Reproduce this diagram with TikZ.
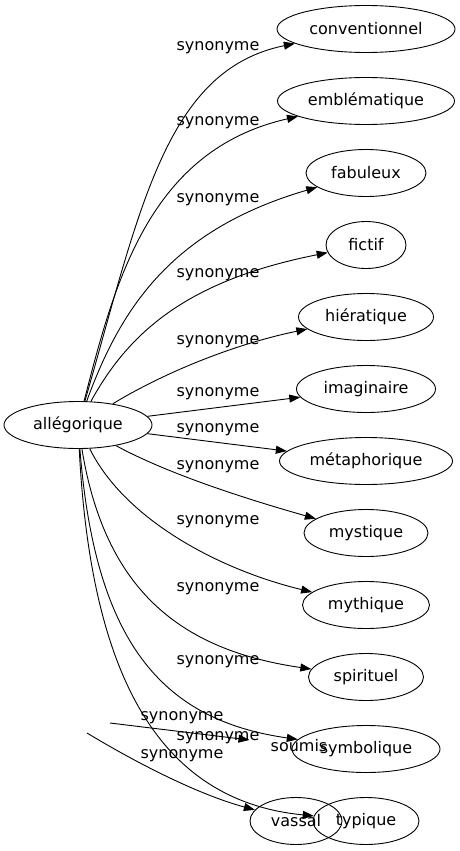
\documentclass[tikz,border=0pt]{standalone}
\usepackage{fontspec}
\setmainfont{DejaVu Sans}
\usetikzlibrary{shapes.geometric,arrows.meta}
\tikzset{
  wordtext/.style = {inner sep=0pt, font=\fontsize{16}{19}\selectfont},
  wordnode/.style = {wordtext, ellipse, draw=black, line width=0.9pt, minimum height=47pt},
  hiddennode/.style = {wordtext, ellipse, minimum height=47pt},
  synedge/.style = {draw=black, line width=0.9pt, -{Triangle[length=11pt,width=8pt]}},
}

\begin{document}
\begin{tikzpicture}[x=1pt, y=-1pt]
  \useasboundingbox (0,0) rectangle (460,851);
  \node [wordnode, minimum width=148pt] (alle) at (78,425) {allégorique};
  \foreach \n/\t/\y/\w in {conv/conventionnel/29/178, embl/emblématique/101/177,
      fabu/fabuleux/173/120, fict/fictif/245/80, hier/hiératique/317/135,
      imag/imaginaire/389/139, meta/métaphorique/461/173, myst/mystique/533/124,
      myth/mythique/605/127, spir/spirituel/677/115, symb/symbolique/749/148,
      typi/typique/821/106}
    \node [wordnode, minimum width=\w pt] (\n) at (366,\y) {\t};
  \node [hiddennode, minimum width=102pt] (soum) at (299,746) {soumis};
  \node [wordnode, minimum width=92pt] (vass) at (296,821) {vassal};
  \coordinate (srca) at (110,723);
  \coordinate (srcb) at (87,733);
  % edges
  \draw [synedge] (alle) .. controls (140,210) and (165,70) .. (conv);
  \draw [synedge] (alle) .. controls (115,280) and (150,150) .. (embl);
  \draw [synedge] (alle) .. controls (120,310) and (170,230) .. (fabu);
  \draw [synedge] (alle) .. controls (130,330) and (190,280) .. (fict);
  \draw [synedge] (alle) .. controls (160,375) and (230,345) .. (hier);
  \draw [synedge] (alle) -- (imag);
  \draw [synedge] (alle) -- (meta);
  \draw [synedge] (alle) .. controls (170,475) and (250,500) .. (myst);
  \draw [synedge] (alle) .. controls (125,520) and (220,570) .. (myth);
  \draw [synedge] (alle) .. controls (105,590) and (180,650) .. (spir);
  \draw [synedge] (alle) .. controls (95,640) and (160,720) .. (symb);
  \draw [synedge] (alle) .. controls (90,660) and (150,800) .. (typi);
  \draw [synedge] (srca) -- (soum);
  \draw [synedge] (srcb) .. controls (140,765) and (200,795) .. (vass);
  % labels
  \foreach \y [count=\i] in {48,123,200,275,342,394,430,467,522,589,662,738}
    \node [wordtext] (lab\i) at (218,\y) {synonyme};
  \node [wordtext] (lab13) at (182,718) {synonyme};
  \node [wordtext] (lab14) at (182,756) {synonyme};
\end{tikzpicture}
\end{document}
